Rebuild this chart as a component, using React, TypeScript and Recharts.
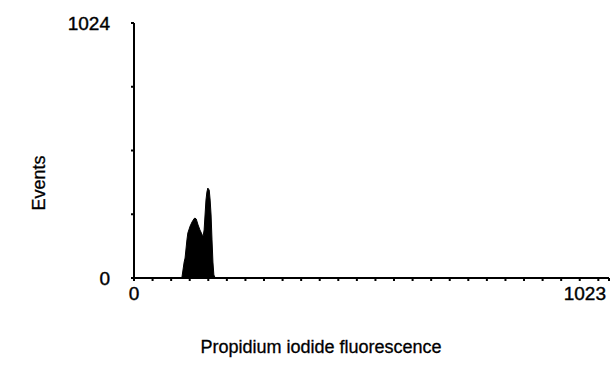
import React from "react";
import { AreaChart, Area, XAxis, YAxis } from "recharts";

const channels = [103, 108, 110, 114, 116, 121, 125, 129, 131, 134, 138, 142, 147, 149, 151, 153, 155, 157, 159, 162, 164, 166, 168, 170, 172, 175];
const events = [0, 64, 80, 153, 181, 209, 225, 237, 241, 237, 213, 193, 173, 169, 193, 253, 313, 345, 361, 353, 313, 253, 153, 64, 12, 0];
const xTicks = [0, 40, 80, 120, 160, 200, 240, 280, 320, 360, 400, 440, 480, 520, 560, 600, 640, 680, 720, 760, 800, 840, 880, 920, 960, 1000, 1023];
const yTicks = [0, 256, 512, 768, 1024];
const xLabelTicks = [0, 1023];
const yLabelTicks = [0, 1024];

const data = channels.map((c, i) => ({ ch: c, ev: events[i] }));

const FONT = "'Liberation Sans', Arial, Helvetica, sans-serif";

const XTick = (props: any) => {
  const { x, y, payload } = props;
  if (!xLabelTicks.includes(payload.value)) return null;
  const isLast = payload.value === 1023;
  return (
    <text x={isLast ? x - 3 : x} y={y + 17} textAnchor={isLast ? "end" : "middle"} fontSize={19} fontFamily={FONT} fill="#000" stroke="#000" strokeWidth={0.4}>
      {payload.value}
    </text>
  );
};

const YTick = (props: any) => {
  const { x, y, payload } = props;
  if (!yLabelTicks.includes(payload.value)) return null;
  return (
    <text x={x - 19} y={y + 7} textAnchor="end" fontSize={19} fontFamily={FONT} fill="#000" stroke="#000" strokeWidth={0.4}>
      {payload.value}
    </text>
  );
};

export default function App() {
  return (
    <div style={{ position: "absolute", left: 0, top: 0, background: "#fff" }}>
      <AreaChart width={612} height={367} data={data} margin={{ top: 23, right: 3, bottom: 59, left: 74 }}>
        <XAxis
          dataKey="ch"
          type="number"
          domain={[0, 1023]}
          ticks={xTicks}
          interval={0}
          tick={<XTick />}
          tickSize={3}
          axisLine={{ stroke: "#000", strokeWidth: 2 }}
          tickLine={{ stroke: "#000", strokeWidth: 2 }}
          height={30}
        />
        <YAxis
          type="number"
          domain={[0, 1024]}
          ticks={yTicks}
          interval={0}
          tick={<YTick />}
          tickSize={3}
          axisLine={{ stroke: "#000", strokeWidth: 2 }}
          tickLine={{ stroke: "#000", strokeWidth: 2 }}
          width={60}
        />
        <Area
          type="linear"
          dataKey="ev"
          stroke="#000"
          strokeWidth={1}
          fill="#000"
          fillOpacity={1}
          isAnimationActive={false}
          dot={false}
        />
        <text x={40} y={183} transform="rotate(-90 40 183)" textAnchor="middle" dominantBaseline="middle" fontSize={18} fontFamily={FONT} fill="#000" stroke="#000" strokeWidth={0.3}>
          Events
        </text>
        <text x={321} y={353} textAnchor="middle" fontSize={18} fontFamily={FONT} fill="#000" stroke="#000" strokeWidth={0.3}>
          Propidium iodide fluorescence
        </text>
      </AreaChart>
    </div>
  );
}
